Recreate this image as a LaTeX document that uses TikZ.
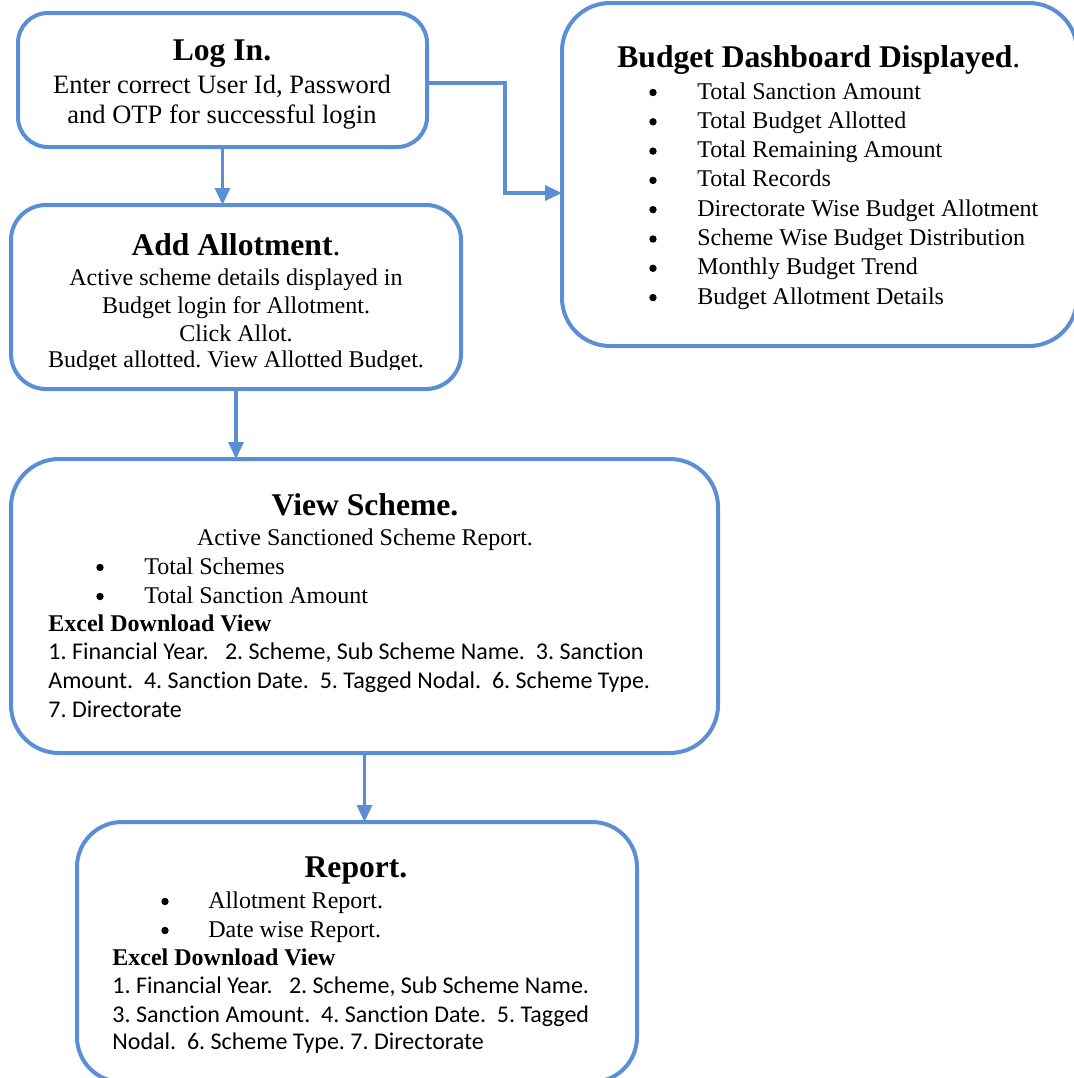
\documentclass[tikz,border=0pt]{standalone}
\usepackage{fontspec}
\setmainfont{Liberation Serif}
\newfontfamily\aptos[Ligatures=NoCommon]{Carlito}
\usetikzlibrary{arrows.meta}
\definecolor{boxblue}{RGB}{90,143,214}
\frenchspacing
\begin{document}
\begin{tikzpicture}[x=0.5pt,y=-0.5pt,
  box/.style={draw=boxblue, line width=2pt, rectangle, inner sep=0pt, outer sep=0pt},
  conn/.style={draw=boxblue, line width=1.65pt, -{Triangle[length=8.5pt,width=7.5pt]}},
  ttl/.style={font=\fontsize{15.8}{18}\selectfont, inner sep=0pt, anchor=base},
  body/.style={font=\fontsize{12}{14}\selectfont, inner sep=0pt, anchor=base},
  bodyl/.style={body, anchor=base west},
  bigbody/.style={font=\fontsize{13.25}{15}\selectfont, inner sep=0pt, anchor=base},
  bul/.style={circle, fill=black, inner sep=0pt, minimum size=3.7pt},
  sans/.style={font=\aptos\fontsize{12}{14}\selectfont, inner sep=0pt, anchor=base west}]
\useasboundingbox (0,0) rectangle (1074,1078);
\clip (0,0) rectangle (1074,1078);

% boxes
\node[box, minimum width=204.5pt, minimum height=67pt, rounded corners=15pt] (login) at (222.5,80) {};
\node[box, minimum width=225pt, minimum height=92pt, rounded corners=17.5pt] (add) at (236,297) {};
\node[box, minimum width=257.5pt, minimum height=171.5pt, rounded corners=24pt] (dash) at (819.5,174.5) {};
\node[box, minimum width=353.5pt, minimum height=147pt, rounded corners=24pt] (view) at (364.5,606) {};
\node[box, minimum width=280pt, minimum height=130pt, rounded corners=22.5pt] (report) at (357,952) {};

% connectors
\draw[conn] (login.south) -- (login.south |- add.north);
\coordinate (k1) at (505,83);
\coordinate (k2) at (505,193);
\draw[conn] (login.east |- k1) -- (k1) -- (k2) -- (k2 -| dash.west);
\draw[conn] (add.south) -- (add.south |- view.north);
\draw[conn] (view.south) -- (view.south |- report.north);

% Log In
\node[ttl] (loginT) at (222,60) {\textbf{Log In.}};
\node[bigbody] (login1) at (222,93) {Enter correct User Id, Password};
\node[bigbody] (login2) at (222,123) {and OTP for successful login};

% Add Allotment
\node[ttl] (addT) at (236,255) {\textbf{Add Allotment}.};
\node[body] (add1) at (236,285) {Active scheme details displayed in};
\node[body] (add2) at (236,313) {Budget login for Allotment.};
\node[body] (add3) at (236,341) {Click Allot.};
\begin{scope}
\clip (0,0) rectangle (1074,369);
\node[body] (add4) at (236,367) {Budget allotted. View Allotted Budget.};
\end{scope}

% Dashboard
\node[ttl, anchor=base west] (dashT) at (617,67) {\textbf{Budget Dashboard Displayed}.};
\foreach \t [count=\i from 0] in {Total Sanction Amount, Total Budget Allotted, Total Remaining Amount, Total Records, Directorate Wise Budget Allotment, Scheme Wise Budget Distribution, Monthly Budget Trend, Budget Allotment Details} {
  \node[bul] (db\i) at (653,{92.5+29.3*\i}) {};
  \node[bodyl] (dt\i) at (697,{99+29.3*\i}) {\t};
}

% View Scheme
\node[ttl] (viewT) at (365,515) {\textbf{View Scheme.}};
\node[body] (view1) at (365,545) {Active Sanctioned Scheme Report.};
\node[bul] (vb1) at (100,567.5) {};
\node[bodyl] (vt1) at (144,574) {Total Schemes};
\node[bul] (vb2) at (100,596.5) {};
\node[bodyl] (vt2) at (144,603) {Total Sanction Amount};
\node[bodyl] (vex) at (48,631) {\textbf{Excel Download View}};
\node[sans] (vs1) at (48,659) {1. Financial Year.\ \ \ 2. Scheme, Sub Scheme Name.\ \ 3. Sanction};
\node[sans] (vs2) at (48,688) {Amount.\ \ 4. Sanction Date.\ \ 5. Tagged Nodal.\ \ 6. Scheme Type.};
\node[sans] (vs3) at (48,717) {7. Directorate};

% Report
\node[ttl] (repT) at (356,877) {\textbf{Report.}};
\node[bul] (rb1) at (165,901.5) {};
\node[bodyl] (rt1) at (208,908) {Allotment Report.};
\node[bul] (rb2) at (165,930.5) {};
\node[bodyl] (rt2) at (208,937) {Date wise Report.};
\node[bodyl] (rex) at (112,965) {\textbf{Excel Download View}};
\node[sans] (rs1) at (112,993) {1. Financial Year.\ \ \ 2. Scheme, Sub Scheme Name.};
\node[sans] (rs2) at (112,1022) {3. Sanction Amount.\ \ 4. Sanction Date.\ \ 5. Tagged};
\node[sans] (rs3) at (112,1049) {Nodal.\ \ 6. Scheme Type. 7. Directorate};
\end{tikzpicture}
\end{document}
